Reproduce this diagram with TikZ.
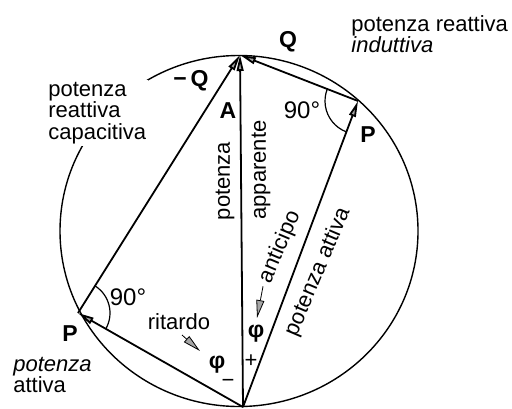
\documentclass[tikz,border=0pt]{standalone}
\usepackage{fontspec}
\setmainfont{Liberation Sans}
\usepackage{tikz}
\usetikzlibrary{arrows.meta, angles, calc}
\tikzset{
    pwarrow/.style={-{Triangle[length=8pt, width=3.4pt, fill=gray!70]}, line width=0.9pt},
    pwdart/.style={-{Triangle[length=9pt, width=4pt, fill=gray!70]}, line width=0.4pt},
    pwcircle/.style={line width=0.7pt},
    pwangle/.style={draw, line width=0.6pt, angle radius=#1},
    pwlabel/.style={font=\bfseries\fontsize{11.5}{12}\selectfont, inner sep=1pt},
    pwnote/.style={font=\fontsize{11}{10.6}\selectfont, align=left, inner sep=1pt},
    pwalong/.style={font=\fontsize{11}{10.6}\selectfont, inner sep=0pt, rotate=#1}
}

\begin{document}
\begin{tikzpicture}[x=0.5pt, y=0.5pt]
\useasboundingbox (0,0) rectangle (512,408);

% points of the Thales circle
\coordinate (O) at (243,1);
\coordinate (A) at (240,353);
\coordinate (Pr) at (358,307);
\coordinate (Pl) at (78,95);
\coordinate (C) at (239,177);

\draw[pwcircle] (C) ellipse [x radius=179, y radius=175.5];

% phasors
\draw[pwarrow] (O) -- (A);
\draw[pwarrow] (O) -- (Pr);
\draw[pwarrow] (O) -- (Pl);
\draw[pwarrow] (Pr) -- (A);
\draw[pwarrow] (Pl) -- (A);

% right angles
\pic[pwangle=16.5pt] {angle = A--Pr--O};
\pic[pwangle=16pt] {angle = O--Pl--A};
\node[pwnote, font=\fontsize{12}{12}\selectfont] (ar) at (302,298) {90°};
\node[pwnote, font=\fontsize{12}{12}\selectfont] (al) at (128,111) {90°};

% letters
\node[pwlabel] (lA) at (228,297) {A};
\node[pwlabel] (lQ) at (288,366) {Q};
\node[pwlabel] (lmQ) at (191,327) {−\,Q};
\node[pwlabel] (lPr) at (368,273) {P};
\node[pwlabel] (lPl) at (70,74) {P};
\node[pwlabel] (phr) at (256,74) {φ};
\node[pwlabel] (phl) at (217,43) {φ};
\node[pwnote] (plus) at (251,47) {+};
\node[pwnote] (minus) at (228,25) {−};

% texts along the phasors
\node[pwalong=90] (lpot) at (225,227) {potenza};
\node[pwalong=90] (lapp) at (261,238) {apparente};
\node[pwalong=67] (latt) at (318,136) {potenza attiva};
\node[pwalong=67] (lant) at (280,161) {anticipo};
\node[pwnote] (lrit) at (179,86) {ritardo};

% small arrows
\coordinate (ant2) at (257,90);
\draw[pwdart] ([xshift=-1pt, yshift=-2pt]lant.west) -- (ant2);
\coordinate (rit1) at (182,73);
\coordinate (rit2) at (200,57);
\draw[pwdart] (rit1) -- (rit2);

% outer notes
\node[pwnote, anchor=west] (lind) at (349,374) {potenza reattiva\\\textit{induttiva}};
\node[pwnote, anchor=west, fill=white] (lcap) at (46,295) {potenza\\reattiva\\capacitiva};
\node[pwnote, anchor=west] (lpa) at (11,33) {\textit{potenza}\\attiva};

\end{tikzpicture}
\end{document}
